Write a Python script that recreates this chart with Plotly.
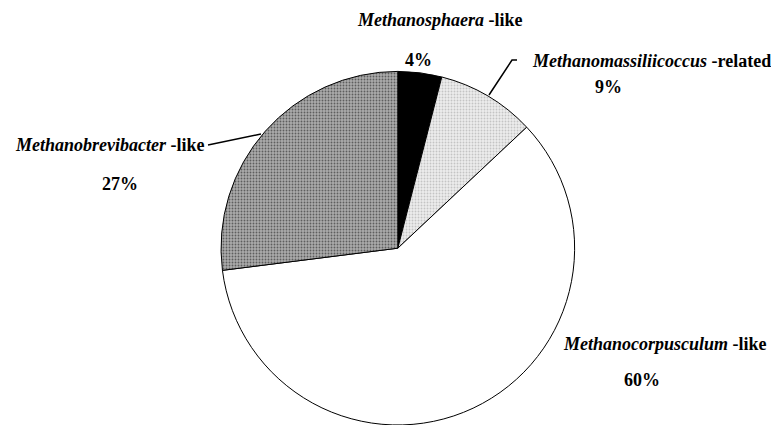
import plotly.graph_objects as go

W, H = 771, 425

genera = ["Methanosphaera", "Methanomassiliicoccus", "Methanocorpusculum", "Methanobrevibacter"]
suffixes = ["-like", "-related", "-like", "-like"]
percents = [4, 9, 60, 27]
fills = ["#000000", "#ededed", "#ffffff", "#ababab"]
pattern_fg = ["#000000", "#c4c4c4", "#ffffff", "#5e5e5e"]
pattern_shape = ["", ".", "", "."]

FONT = "Liberation Serif, Times New Roman, serif"

fig = go.Figure(go.Pie(
    labels=genera,
    values=percents,
    sort=False,
    direction="clockwise",
    rotation=0,
    textinfo="none",
    hoverinfo="label+percent",
    marker=dict(
        colors=fills,
        line=dict(color="#000000", width=1),
        pattern=dict(shape=pattern_shape, fgcolor=pattern_fg, bgcolor=fills,
                     size=3, solidity=0.3, fillmode="replace"),
    ),
    domain=dict(x=[0.28, 0.752], y=[0.0, 0.832]),
    showlegend=False,
))

def px(x, y):
    return x / W, 1 - y / H

# label (name) positions and percent positions, in pixels
name_pos = [(440, 20), (651, 61), (665, 344), (110, 145)]
pct_pos = [(419, 60), (608, 87), (642, 380), (120, 184)]

ann = []
for g, s, p, (nx, ny), (qx, qy) in zip(genera, suffixes, percents, name_pos, pct_pos):
    x, y = px(nx, ny)
    ann.append(dict(x=x, y=y, xref="paper", yref="paper", showarrow=False,
                    text=f"<b><i>{g}</i> {s}</b>", xanchor="center", yanchor="middle",
                    font=dict(family=FONT, size=18, color="#000000")))
    x, y = px(qx, qy)
    ann.append(dict(x=x, y=y, xref="paper", yref="paper", showarrow=False,
                    text=f"<b>{p}%</b>", xanchor="center", yanchor="middle",
                    font=dict(family=FONT, size=18, color="#000000")))

shapes = [
    dict(type="path", xref="paper", yref="paper",
         path="M {} {} L {} {} L {} {}".format(*px(517, 60), *px(512, 60), *px(489, 95)),
         line=dict(color="#000000", width=1.5)),
    dict(type="line", xref="paper", yref="paper",
         x0=px(208, 145)[0], y0=px(208, 145)[1], x1=px(261, 134)[0], y1=px(261, 134)[1],
         line=dict(color="#000000", width=1.5)),
]

fig.update_layout(
    width=W, height=H,
    margin=dict(l=0, r=0, t=0, b=0),
    paper_bgcolor="#ffffff", plot_bgcolor="#ffffff",
    annotations=ann, shapes=shapes,
)

fig.write_html("out.html", config={"displayModeBar": False},
               post_script="document.body.style.margin='0px';document.body.style.overflow='hidden';")
